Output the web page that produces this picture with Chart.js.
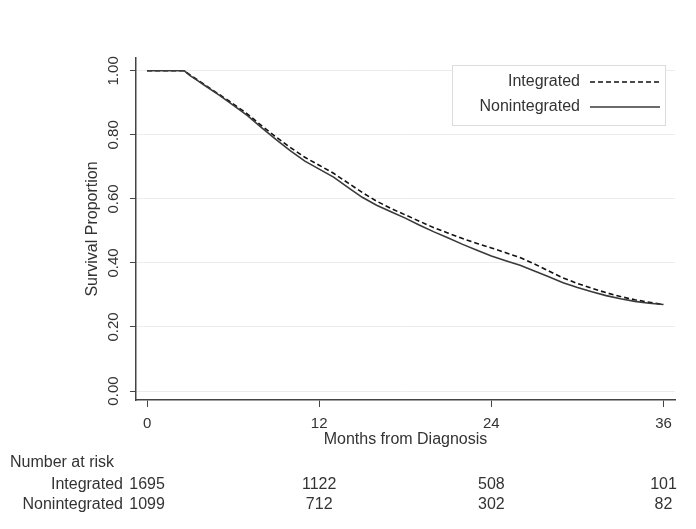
<!DOCTYPE html>
<html>
<head>
<meta charset="utf-8">
<script src="https://cdn.jsdelivr.net/npm/chart.js@4"></script>
<style>
  body { margin: 0; background: #fff; }
  canvas { display: block; }
</style>
</head>
<body>
<canvas id="km" width="696" height="529"></canvas>
<script>
// Data
const months = [0, 1, 2, 2.6, 3, 3.5, 4, 5, 6, 7, 8, 9, 10, 11, 12, 13, 14, 15, 16, 17, 18, 19, 20, 21, 22, 23, 24, 25, 26, 27, 28, 29, 30, 31, 32, 33, 34, 35, 36];
const survIntegrated = [1, 1, 1, 1, 0.987, 0.972, 0.957, 0.927, 0.897, 0.865, 0.828, 0.793, 0.76, 0.73, 0.705, 0.68, 0.65, 0.62, 0.593, 0.57, 0.55, 0.53, 0.51, 0.493, 0.476, 0.461, 0.447, 0.432, 0.417, 0.397, 0.375, 0.353, 0.336, 0.321, 0.307, 0.295, 0.285, 0.277, 0.27];
const survNonintegrated = [1, 1, 1, 1, 0.985, 0.97, 0.955, 0.925, 0.893, 0.86, 0.822, 0.785, 0.75, 0.718, 0.693, 0.668, 0.636, 0.605, 0.58, 0.56, 0.54, 0.518, 0.497, 0.478, 0.458, 0.44, 0.422, 0.407, 0.393, 0.375, 0.357, 0.338, 0.323, 0.31, 0.298, 0.288, 0.28, 0.274, 0.27];

const xTicks = [0, 12, 24, 36];
const yTicks = [0, 0.2, 0.4, 0.6, 0.8, 1.0];

const riskTimes = [0, 12, 24, 36];
const riskIntegrated = [1695, 1122, 508, 101];
const riskNonintegrated = [1099, 712, 302, 82];

const FONT = "'Liberation Sans', Arial, sans-serif";
const TEXT = '#333';

function toPoints(ys) {
    return months.map((m, i) => ({ x: m, y: ys[i] }));
}

// Legend drawn in Stata style: label on the left, line sample on the right
const legendBox = {
    id: 'legendBox',
    afterDraw(chart) {
        const ctx = chart.ctx;
        ctx.save();
        ctx.strokeStyle = '#dcdcdc';
        ctx.lineWidth = 1;
        ctx.fillStyle = '#fff';
        ctx.fillRect(452, 65, 213, 60);
        ctx.strokeRect(452.5, 65.5, 213, 60);
        ctx.font = `16px ${FONT}`;
        ctx.textAlign = 'right';
        ctx.textBaseline = 'middle';
        const rows = [82, 107];
        chart.data.datasets.slice().reverse().forEach((ds, i) => {
            const y = rows[i];
            ctx.fillStyle = TEXT;
            ctx.fillText(ds.label, 580, y);
            ctx.strokeStyle = ds.borderColor;
            ctx.lineWidth = ds.borderWidth;
            ctx.setLineDash(ds.borderDash || []);
            ctx.beginPath();
            ctx.moveTo(590, y);
            ctx.lineTo(660, y);
            ctx.stroke();
        });
        ctx.restore();
    }
};

// Number-at-risk table under the x axis
const riskTable = {
    id: 'riskTable',
    afterDraw(chart) {
        const ctx = chart.ctx;
        const xs = chart.scales.x;
        ctx.save();
        ctx.font = `16px ${FONT}`;
        ctx.fillStyle = TEXT;
        ctx.textBaseline = 'middle';
        ctx.textAlign = 'left';
        ctx.fillText('Number at risk', 10, 463);
        const rows = [
            { name: 'Integrated', vals: riskIntegrated, y: 485 },
            { name: 'Nonintegrated', vals: riskNonintegrated, y: 505 }
        ];
        rows.forEach(r => {
            ctx.textAlign = 'right';
            ctx.fillText(r.name, 123, r.y);
            ctx.textAlign = 'center';
            r.vals.forEach((v, i) => {
                ctx.fillText(String(v), xs.getPixelForValue(riskTimes[i]), r.y);
            });
        });
        ctx.restore();
    }
};

const ctx = document.getElementById('km').getContext('2d');
new Chart(ctx, {
    type: 'line',
    data: {
        datasets: [
            {
                label: 'Nonintegrated',
                data: toPoints(survNonintegrated),
                borderColor: '#3a3a3a',
                borderWidth: 1.6,
                pointRadius: 0,
                tension: 0
            },
            {
                label: 'Integrated',
                data: toPoints(survIntegrated),
                borderColor: '#111',
                borderWidth: 1.6,
                borderDash: [5, 3],
                pointRadius: 0,
                tension: 0
            }
        ]
    },
    options: {
        responsive: false,
        animation: false,
        layout: { padding: { left: 0, top: 58, right: 21, bottom: 77 } },
        plugins: {
            legend: { display: false },
            tooltip: { enabled: false }
        },
        scales: {
            x: {
                type: 'linear',
                min: -0.77,
                max: 36.8,
                afterBuildTicks: s => { s.ticks = xTicks.map(v => ({ value: v })); },
                afterFit: s => { s.height = 52; },
                grid: { drawOnChartArea: false, tickLength: 7, tickColor: '#444' },
                border: { display: true, color: '#444', width: 1.5 },
                ticks: { color: TEXT, padding: 8, font: { family: FONT, size: 15 }, maxRotation: 0 },
                title: {
                    display: true,
                    text: 'Months from Diagnosis',
                    color: TEXT,
                    font: { family: FONT, size: 16 },
                    padding: { top: 0, bottom: 3 }
                }
            },
            y: {
                type: 'linear',
                min: -0.028,
                max: 1.04,
                afterBuildTicks: s => { s.ticks = yTicks.map(v => ({ value: v })); },
                afterFit: s => { s.width = 136; },
                grid: { color: '#ececec', lineWidth: 1, tickLength: 6, tickColor: '#444' },
                border: { display: true, color: '#444', width: 1.5 },
                ticks: {
                    color: TEXT,
                    padding: 2,
                    crossAlign: 'center',
                    minRotation: 90,
                    maxRotation: 90,
                    font: { family: FONT, size: 15 },
                    callback: v => v.toFixed(2)
                },
                title: {
                    display: true,
                    text: 'Survival Proportion',
                    color: TEXT,
                    font: { family: FONT, size: 16 },
                    padding: { top: 83, bottom: 0 }
                }
            }
        }
    },
    plugins: [legendBox, riskTable]
});
</script>
</body>
</html>
